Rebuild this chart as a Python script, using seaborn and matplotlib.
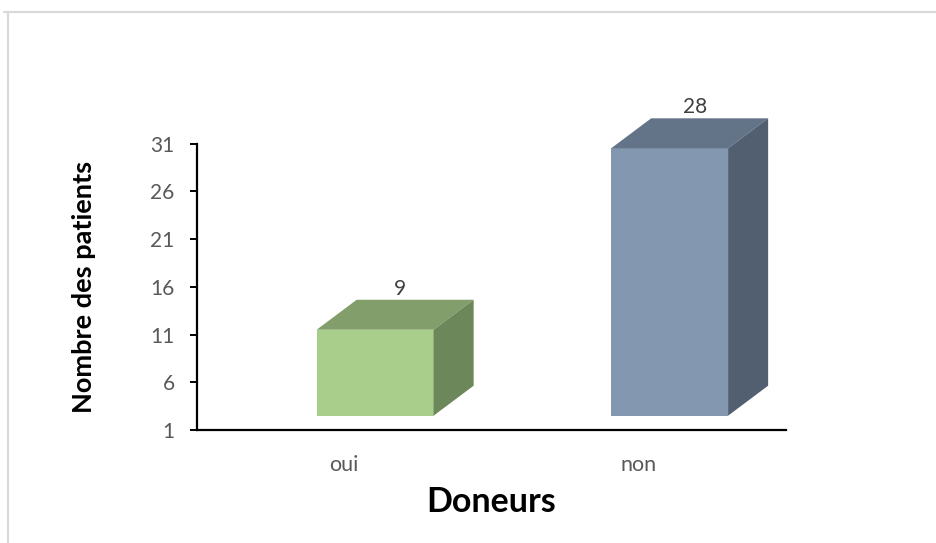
import matplotlib
matplotlib.use("Agg")
import matplotlib.pyplot as plt
from matplotlib.patches import Polygon
from matplotlib.lines import Line2D
import pandas as pd
import seaborn as sns

# Data
categories = ["oui", "non"]
patients = [9, 28]
y_ticks = [1, 6, 11, 16, 21, 26, 31]

front_colors = ["#A9CE8C", "#8497B0"]
top_colors = ["#819E6B", "#637488"]
side_colors = ["#6C8759", "#525F70"]

sns.set_theme(style="white")
plt.rcParams["font.family"] = ["Lato", "DejaVu Sans"]

df = pd.DataFrame({"Doneurs": categories, "Patients": patients})

fig = plt.figure(figsize=(9.37, 5.43), dpi=100)
ax = fig.add_axes([0.2102, 0.2081, 0.6286, 0.5276])

sns.barplot(data=df, x="Doneurs", y="Patients", hue="Doneurs",
            palette=front_colors, order=categories, hue_order=categories,
            width=0.397, dodge=False, legend=False, ax=ax,
            saturation=1, linewidth=0, zorder=3)

floor = 2.5          # base of the front faces (3D floor)
shift = 0.105        # perspective shift of the boxes to the right
depth_x, depth_y = 0.136, 3.14   # depth of the 3D boxes

for i, p in enumerate(ax.patches):
    p.set_x(p.get_x() + shift)
    p.set_y(floor)
    x0 = p.get_x()
    x1 = x0 + p.get_width()
    top = floor + p.get_height()
    top_face = Polygon([(x0, top), (x0 + depth_x, top + depth_y),
                        (x1 + depth_x, top + depth_y), (x1, top)],
                       closed=True, facecolor=top_colors[i], edgecolor="none",
                       zorder=3, clip_on=False)
    side_face = Polygon([(x1, floor), (x1, top), (x1 + depth_x, top + depth_y),
                         (x1 + depth_x, floor + depth_y)],
                        closed=True, facecolor=side_colors[i], edgecolor="none",
                        zorder=3, clip_on=False)
    ax.add_patch(top_face)
    ax.add_patch(side_face)
    ax.text((x0 + x1) / 2 + 0.085, top + depth_y + 0.1, f"{patients[i]}",
            ha="center", va="bottom", fontsize=15, color="#404040",
            clip_on=False)

ax.set_xlim(-0.5, 1.5)
ax.set_ylim(1, 31)
ax.set_yticks(y_ticks)
ax.set_yticklabels([str(t) for t in y_ticks])

for side in ["top", "right"]:
    ax.spines[side].set_visible(False)
for side in ["left", "bottom"]:
    ax.spines[side].set_color("black")
    ax.spines[side].set_linewidth(1.6)

ax.tick_params(axis="y", which="major", direction="out", length=5, width=1.4,
               color="black", left=True, labelsize=15, labelcolor="#595959", pad=11)
ax.tick_params(axis="x", which="major", bottom=False, labelsize=15.5,
               labelcolor="#595959", pad=12)

ax.set_xlabel("Doneurs", fontsize=24.5, fontweight="bold", color="black", labelpad=8)
ax.set_ylabel("Nombre des patients", fontsize=19.5, fontweight="bold", color="black",
              labelpad=39)

# Outer light frame
fig.add_artist(Line2D([4 / 937, 1.0], [1 - 12 / 543, 1 - 12 / 543],
                      transform=fig.transFigure, color="#D9D9D9", linewidth=1.5))
fig.add_artist(Line2D([8 / 937, 8 / 937], [0.0, 1 - 12 / 543],
                      transform=fig.transFigure, color="#D9D9D9", linewidth=1.5))

fig.savefig("out.png", dpi=100, facecolor="white")
